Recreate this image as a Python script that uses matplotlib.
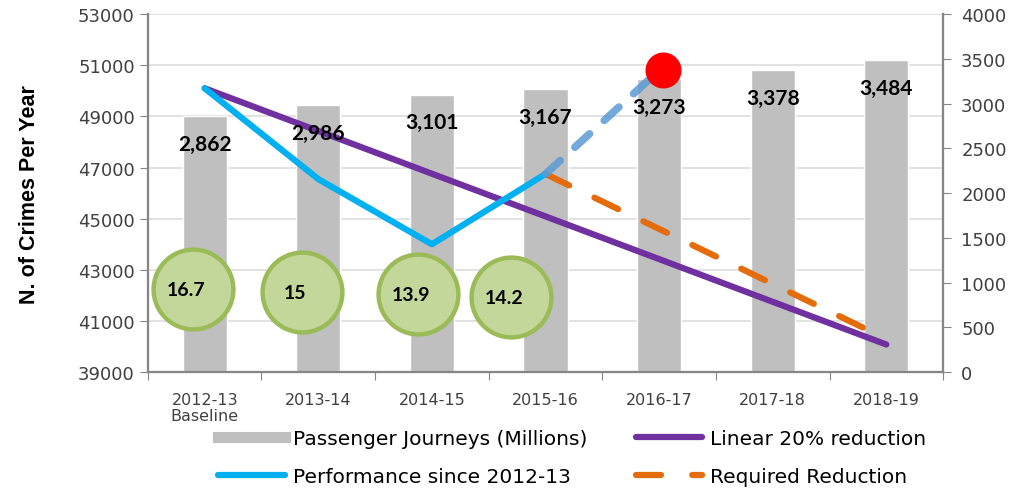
import numpy as np
import matplotlib.pyplot as plt
from matplotlib.lines import Line2D

# data
years = ["2012-13\nBaseline", "2013-14", "2014-15", "2015-16", "2016-17", "2017-18", "2018-19"]
journeys = [2862, 2986, 3101, 3167, 3273, 3378, 3484]
journey_labels = ["2,862", "2,986", "3,101", "3,167", "3,273", "3,378", "3,484"]
linear = [50100, 48430, 46760, 45090, 43420, 41750, 40080]
performance = [50100, 46550, 44000, 46750]
forecast = [46750, 50800]
required = [46750, 44600, 42450, 40300]
circle_values = ["16.7", "15", "13.9", "14.2"]
circle_x = [-0.1, 0.86, 1.88, 2.7]
circle_y = [42250, 42130, 42050, 41930]

fig = plt.figure(figsize=(10.13, 4.89), dpi=100)
ax1 = fig.add_axes([0.146, 0.237, 0.785, 0.732])
ax2 = ax1.twinx()
ax3 = ax1.twinx()

x = np.arange(len(years))
tick_col = "#404040"
spine_col = "#868686"

# grid + left axis
ax1.set_ylim(39000, 53000)
ax1.set_yticks(np.arange(39000, 53001, 2000))
ax1.set_xlim(-0.5, 6.5)
ax1.yaxis.grid(True, color="#DDDDDD", lw=1.2)
ax1.set_axisbelow(True)
ax1.set_xticks(np.arange(-0.5, 6.6, 1))
ax1.set_xticklabels([])
ax1.set_xticks(x, minor=True)
ax1.set_xticklabels(years, minor=True, fontsize=11.5, color=tick_col, linespacing=1.1)
ax1.tick_params(axis="x", which="minor", length=0, pad=14)
ax1.tick_params(axis="x", which="major", length=6, color=spine_col)
ax1.tick_params(axis="y", length=6, color=spine_col, labelsize=13, labelcolor=tick_col)
ax1.set_ylabel("N. of Crimes Per Year", fontsize=15.5, fontweight="bold",
               family="Liberation Sans", labelpad=27)

# bars on right axis
ax2.bar(x, journeys, width=0.39, color="#BFBFBF", edgecolor="white", lw=1, zorder=2)
ax2.set_ylim(0, 4000)
ax2.set_yticks(np.arange(0, 4001, 500))
ax2.tick_params(axis="y", length=6, color=spine_col, labelsize=13, labelcolor=tick_col, pad=7)

# lines on left scale
ax3.set_ylim(39000, 53000)
ax3.set_yticks([])
ax3.plot(x, linear, color="#7030A0", lw=4.5, solid_capstyle="round", zorder=3)
ax3.plot(x[:4], performance, color="#00B0F0", lw=4.5, solid_capstyle="round",
         solid_joinstyle="round", zorder=4)
ax3.plot(x[3:5], forecast, color="#5B9BD5", alpha=0.85, lw=5.5, ls=(0, (2.6, 2.6)),
         dash_capstyle="round", zorder=4)
ax3.plot(x[3:], required, color="#E46C0A", lw=4.5, ls=(0, (4.2, 4.5)),
         dash_capstyle="round", zorder=3)
ax3.scatter([4.03], [50800], s=620, color="#FF0000", zorder=6)

# bar value labels
for xi, v, lab in zip(x, journeys, journey_labels):
    ax3.annotate(lab, (xi, v), xycoords=ax2.transData, xytext=(0, -20),
                 textcoords="offset points", ha="center", va="center",
                 fontsize=15, fontweight="bold", family="Lato", zorder=7)

# green circles
ax3.scatter(circle_x, circle_y, s=3300, color="#C4D79B", edgecolor="#9BBB59",
            lw=3.2, zorder=5)
for cx, cy, t in zip(circle_x, circle_y, circle_values):
    ax3.annotate(t, (cx, cy), xytext=(-5, 0), textcoords="offset points",
                 ha="center", va="center", fontsize=14, fontweight="bold",
                 family="Lato", zorder=7)

for a in (ax1, ax2, ax3):
    a.spines["top"].set_visible(False)
    for s in ("left", "right", "bottom"):
        a.spines[s].set_color(spine_col)
        a.spines[s].set_linewidth(1.5)

handles = [Line2D([], [], color="#BFBFBF", lw=8),
           Line2D([], [], color="#00B0F0", lw=4.5, solid_capstyle="round"),
           Line2D([], [], color="#7030A0", lw=4.5, solid_capstyle="round"),
           Line2D([], [], color="#E46C0A", lw=4.5, ls=(0, (4, 5)), dash_capstyle="round")]
labels = ["Passenger Journeys (Millions)", "Performance since 2012-13",
          "Linear 20% reduction", "Required Reduction"]
fig.legend(handles, labels, ncol=2, loc="center", bbox_to_anchor=(0.565, 0.062),
           frameon=False, handlelength=3.3, handletextpad=0.4, columnspacing=2.4,
           labelspacing=0.95, prop={"family": "DejaVu Sans", "size": 14.5})

fig.savefig("out.png", dpi=100)
